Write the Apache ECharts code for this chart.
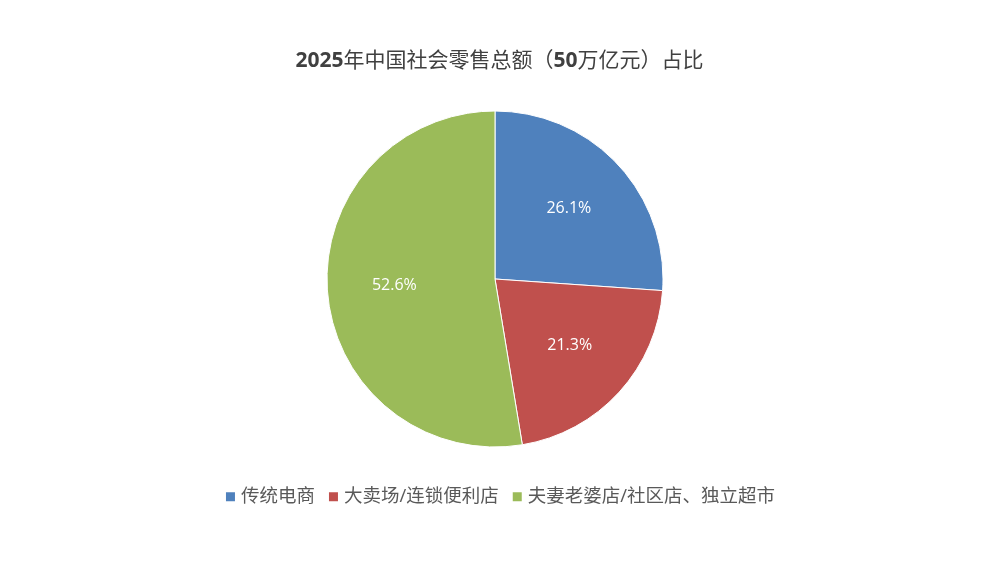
<!DOCTYPE html>
<html><head><meta charset="utf-8">
<script src="https://cdn.jsdelivr.net/npm/echarts@6/dist/echarts.min.js"></script>
<style>html,body{margin:0;padding:0;background:#fff}#c{width:999px;height:562px}</style>
</head><body><div id="c"></div>
<script>
const categories = ['传统电商', '大卖场/连锁便利店', '夫妻老婆店/社区店、独立超市'];
const values = [26.1, 21.3, 52.6];
const colors = ['#4F81BD', '#C0504D', '#9BBB59'];

const chart = echarts.init(document.getElementById('c'));
const data = categories.map((n, i) => ({ name: n, value: values[i], itemStyle: { color: colors[i] } }));
const font = '"Open Sans", "Noto Sans CJK SC", sans-serif';
chart.setOption({
  backgroundColor: '#fff',
  title: {
    text: '{b|2025}{n|年中国社会零售总额（}{b|50}{n|万亿元）占比}',
    left: 'center', top: 46,
    textStyle: {
      rich: {
        b: { fontFamily: font, fontWeight: 'bold', fontSize: 21, color: '#404040' },
        n: { fontFamily: font, fontWeight: 'normal', fontSize: 21, color: '#404040' }
      }
    }
  },
  legend: {
    bottom: 51, left: 'center',
    itemWidth: 11, itemHeight: 11, itemGap: 12,
    icon: 'rect',
    textStyle: { fontFamily: font, fontSize: 18.5, color: '#595959', padding: [0, 0, 0, 0] },
    data: categories
  },
  series: [
    {
      type: 'pie', center: [495, 279], radius: 168, startAngle: 90, clockwise: true,
      data: data, label: { show: false }, labelLine: { show: false },
      itemStyle: { borderColor: '#fff', borderWidth: 1 },
      emphasis: { disabled: true }, animation: false
    },
    {
      type: 'pie', center: [495, 277], radius: 196, startAngle: 90, clockwise: true, silent: true,
      data: categories.map((n, i) => ({ name: n, value: values[i] })),
      itemStyle: { color: 'rgba(0,0,0,0)' },
      label: { show: true, position: 'inside', formatter: p => p.value.toFixed(1) + '%', color: '#fff', fontSize: 16, fontFamily: font },
      labelLine: { show: false }, legendHoverLink: false, animation: false
    }
  ]
});
</script></body></html>
